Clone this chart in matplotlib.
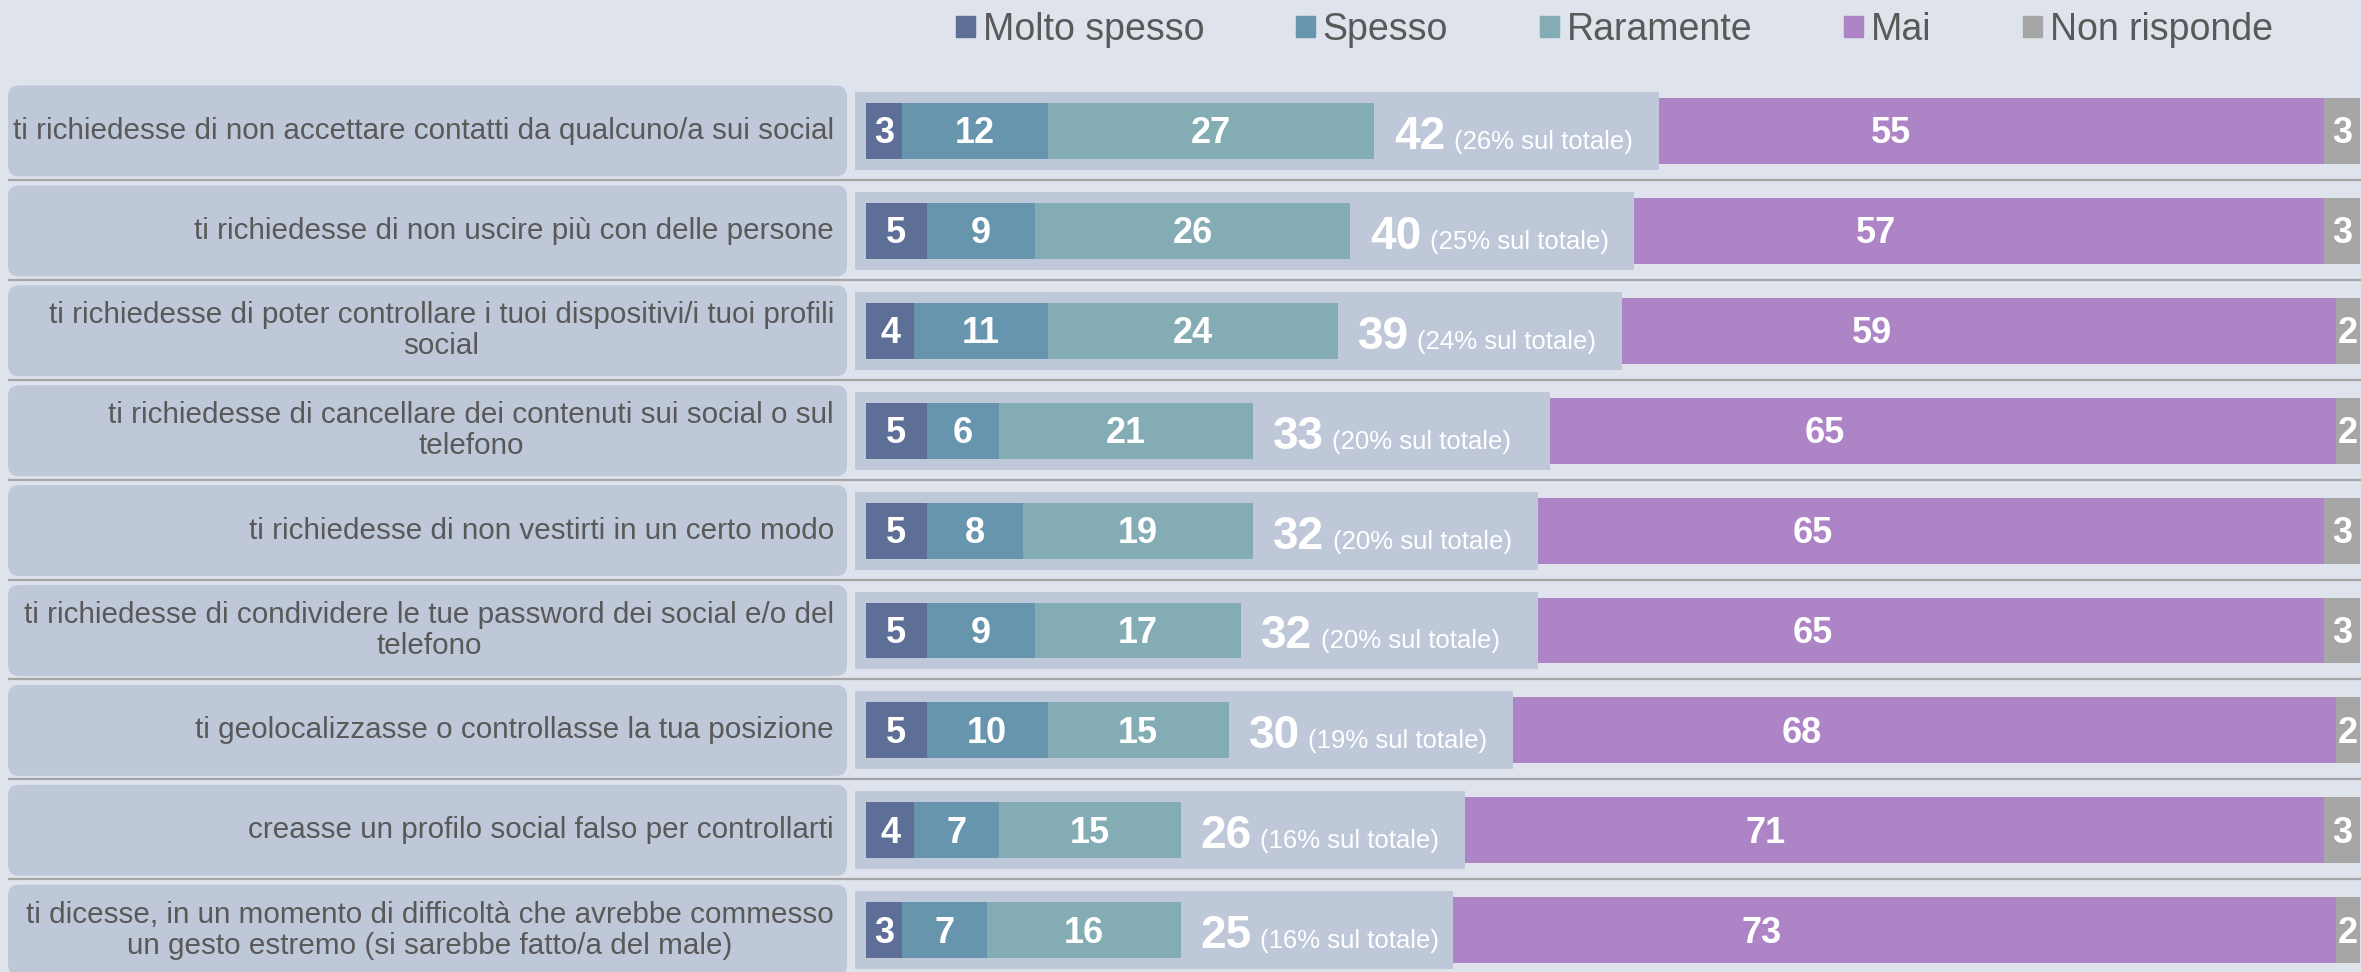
import matplotlib.pyplot as plt
from matplotlib.patches import FancyBboxPatch, Patch

plt.rcParams['font.family'] = ['Liberation Sans', 'DejaVu Sans']

# data
domande = [
    "ti richiedesse di non accettare contatti da qualcuno/a sui social",
    "ti richiedesse di non uscire più con delle persone",
    "ti richiedesse di poter controllare i tuoi dispositivi/i tuoi profili\nsocial",
    "ti richiedesse di cancellare dei contenuti sui social o sul\ntelefono",
    "ti richiedesse di non vestirti in un certo modo",
    "ti richiedesse di condividere le tue password dei social e/o del\ntelefono",
    "ti geolocalizzasse o controllasse la tua posizione",
    "creasse un profilo social falso per controllarti",
    "ti dicesse, in un momento di difficoltà che avrebbe commesso\nun gesto estremo (si sarebbe fatto/a del male)",
]
molto_spesso = [3, 5, 4, 5, 5, 5, 5, 4, 3]
spesso = [12, 9, 11, 6, 8, 9, 10, 7, 7]
raramente = [27, 26, 24, 21, 19, 17, 15, 15, 16]
totale = [42, 40, 39, 33, 32, 32, 30, 26, 25]
perc_totale = [26, 25, 24, 20, 20, 20, 19, 16, 16]
mai = [55, 57, 59, 65, 65, 65, 68, 71, 73]
non_risponde = [3, 3, 2, 2, 3, 3, 2, 3, 2]

serie = ["Molto spesso", "Spesso", "Raramente", "Mai", "Non risponde"]
colori = ["#5d6f96", "#6895ae", "#83acb5", "#ad84c6", "#a6a6a6"]

BG = "#dee3ec"
BOX = "#bfc8d9"
GRIGIO = "#595959"

# layout (pixels of the output image)
W, H = 2361, 972
X0 = 866        # where value 0 sits
S = 12.1        # pixels per unit
Y0 = 131        # centre of the first row
RIGA = 99.9     # row pitch
GAP = 23.5      # empty space (units) that holds the total label

fig = plt.figure(figsize=(W / 100, H / 100), dpi=100, facecolor=BG)
ax = fig.add_axes([0, 0, 1, 1])
ax.set_facecolor("none")
ax.set_xlim(-X0 / S, (W - X0) / S)
ax.set_ylim((H - Y0) / RIGA, -Y0 / RIGA)
ax.axis("off")

n = len(domande)
ys = list(range(n))

# separators
ax.hlines([y + 0.49 for y in ys[:-1]], (8 - X0) / S, (W - X0) / S,
          color="#a6a6a6", lw=1.6, zorder=1)

for i, y in enumerate(ys):
    # rounded label box
    bx0 = (8 - X0) / S
    bx1 = (847 - X0) / S
    r = 11 / S
    lab = FancyBboxPatch((bx0, y - 0.455), bx1 - bx0, 0.91,
                         boxstyle=f"round,pad=0,rounding_size={r}",
                         mutation_aspect=S / RIGA,
                         fc=BOX, ec="none", zorder=2)
    ax.add_patch(lab)
    ax.text((834 - X0) / S, y, domande[i], ha="right", va="center",
            multialignment="center", fontsize=21.3, color=GRIGIO,
            linespacing=1.12, zorder=3)

    somma = molto_spesso[i] + spesso[i] + raramente[i]
    # light box behind the first three bars and the total
    pad = 11 / S
    ax.barh(y, totale[i] + GAP + pad, left=-pad, height=0.78, color=BOX,
            zorder=2)

    left = 0
    for val, col in zip([molto_spesso[i], spesso[i], raramente[i]], colori[:3]):
        ax.barh(y, val, left=left, height=0.56, color=col, zorder=3)
        ax.text(left + val / 2, y + 0.125, str(val), ha="center",
                va="baseline", fontsize=26, weight="bold", color="white",
                zorder=4)
        left += val

    t = ax.text(somma + 1.65, y + 0.18, str(totale[i]),
                ha="left", va="baseline", fontsize=33, weight="bold",
                color="white", zorder=4)
    ax.annotate(f"({perc_totale[i]}% sul totale)", xy=(1, y + 0.18),
                xycoords=(t, "data"), xytext=(6, 0), textcoords="offset points",
                ha="left", va="baseline", fontsize=18.5, color="white",
                zorder=4)

    m0 = totale[i] + GAP
    ax.barh(y, mai[i], left=m0, height=0.66, color=colori[3], zorder=3)
    ax.text(m0 + mai[i] * 0.35, y + 0.125, str(mai[i]), ha="center",
            va="baseline", fontsize=26, weight="bold", color="white", zorder=4)
    n0 = m0 + mai[i]
    ax.barh(y, non_risponde[i], left=n0, height=0.66, color=colori[4], zorder=3)
    ax.text(n0 + non_risponde[i] / 2, y + 0.125, str(non_risponde[i]),
            ha="center", va="baseline", fontsize=26, weight="bold",
            color="white", zorder=4)

handles = [Patch(color=c) for c in colori]
fig.legend(handles, serie, loc="center left",
           bbox_to_anchor=(956 / W, 1 - 30 / H), ncol=5, frameon=False,
           fontsize=27, labelcolor=GRIGIO, handlelength=0.5, handleheight=0.5,
           handletextpad=0.21, columnspacing=2.45, borderpad=0,
           borderaxespad=0)

fig.savefig("out.png", dpi=100, facecolor=BG)
